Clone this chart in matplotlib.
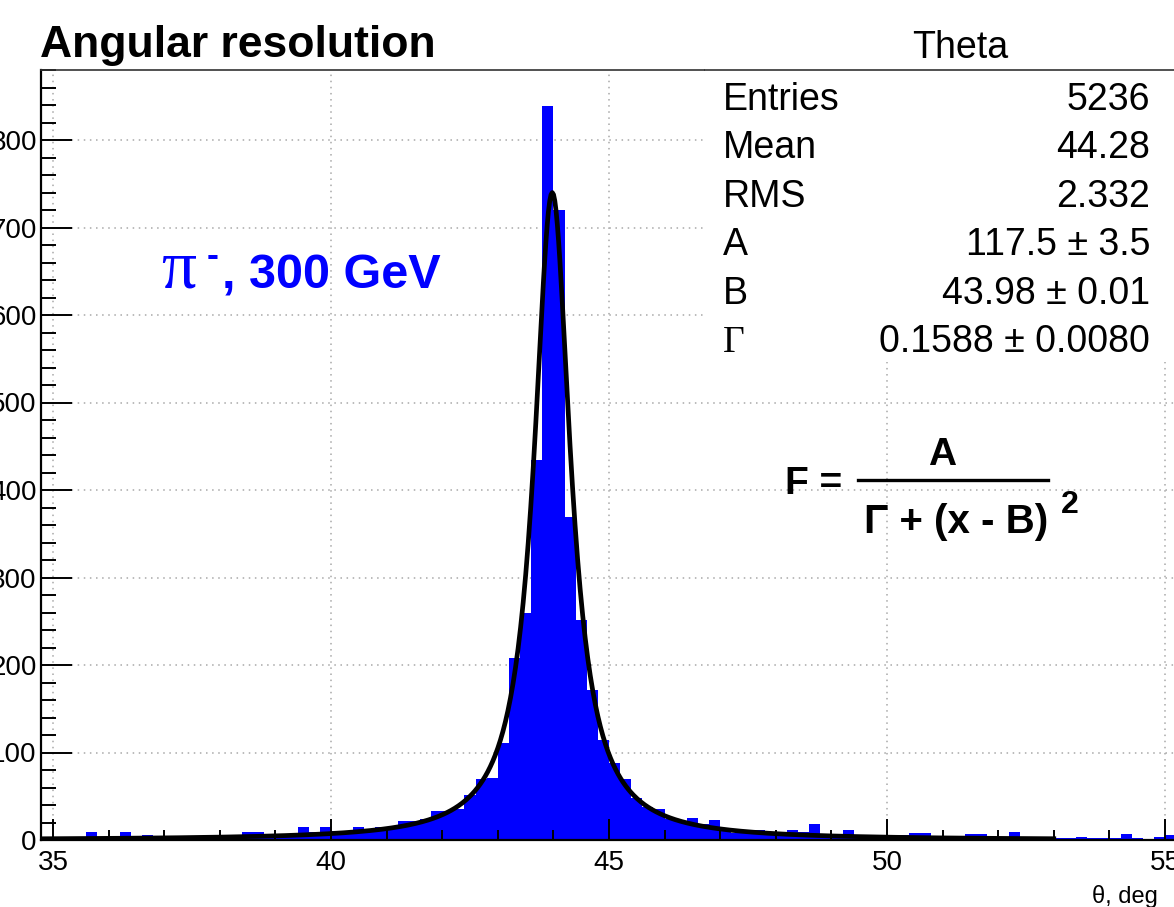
import numpy as np
import matplotlib
matplotlib.use('Agg')
import matplotlib.pyplot as plt
from matplotlib.patches import Rectangle
from matplotlib.lines import Line2D
from matplotlib.ticker import MultipleLocator

plt.rcParams['font.family'] = ['Liberation Sans', 'DejaVu Sans']

# histogram: bins of 0.2 deg starting at 34.8
bin_start = 34.8
bin_width = 0.2
counts = [3, 2, 2, 2, 9, 2, 2, 9, 2, 6,
          2, 5, 3, 3, 3, 3, 3, 3, 9, 9,
          7, 7, 7, 15, 9, 15, 10, 10, 15, 12,
          15, 15, 22, 22, 24, 33, 33, 36, 51, 70,
          71, 111, 208, 259, 434, 839, 720, 369, 251, 171,
          114, 88, 70, 48, 38, 35, 24, 22, 25, 18,
          23, 13, 8, 8, 11, 7, 5, 11, 9, 18,
          4, 4, 11, 5, 5, 2, 2, 6, 8, 8,
          4, 2, 2, 7, 7, 4, 4, 9, 1, 1,
          2, 2, 2, 4, 2, 2, 2, 7, 2, 1,
          4, 6]
edges = bin_start + bin_width * np.arange(len(counts) + 1)

# fit result  F = A / (Gamma + (x - B)^2)
fit_A = 117.5
fit_B = 43.98
fit_G = 0.1588
fit_range = (34.8, 53.0)

stat_names = ['Entries', 'Mean', 'RMS', 'A', 'B', 'Γ']
stat_values = ['5236', '44.28', '2.332', '117.5 ± 3.5', '43.98 ± 0.01', '0.1588 ± 0.0080']

W, H = 1174, 907
def fx(px):
    return px / W
def fy(py):
    return 1 - py / H

fig = plt.figure(figsize=(11.74, 9.07), dpi=100)
ax = fig.add_axes([fx(41), fy(840), (1186 - 41) / W, (840 - 70) / H])

blue = '#0000ff'
ax.stairs(counts, edges, fill=True, color=blue, zorder=1)

xf = np.linspace(fit_range[0], fit_range[1], 800)
ax.plot(xf, fit_A / (fit_G + (xf - fit_B) ** 2), color='black', lw=3.4, zorder=3)

ax.set_xlim(34.784, 55.378)
ax.set_ylim(0, 880)

ax.xaxis.set_major_locator(MultipleLocator(5))
ax.xaxis.set_minor_locator(MultipleLocator(1))
ax.yaxis.set_major_locator(MultipleLocator(100))
ax.yaxis.set_minor_locator(MultipleLocator(20))

# dotted grid under the bars
for v in range(35, 60, 5):
    ax.axvline(v, color='#a8a8a8', lw=1.1, ls=(0, (1, 3)), zorder=0)
for v in range(100, 900, 100):
    ax.axhline(v, color='#a8a8a8', lw=1.1, ls=(0, (1, 3)), zorder=0)

ax.tick_params(axis='x', which='major', direction='in', length=15, width=1.4, pad=7, labelsize=20)
ax.tick_params(axis='x', which='minor', direction='in', length=7.5, width=1.4)
ax.tick_params(axis='y', which='major', direction='in', length=22, width=1.4, pad=3, labelsize=20)
ax.tick_params(axis='y', which='minor', direction='in', length=11, width=1.4)
ax.tick_params(which='both', top=False, right=False)

ax.spines['right'].set_visible(False)
ax.spines['top'].set_linewidth(1.2)
ax.spines['top'].set_color('#333333')
ax.spines['left'].set_linewidth(1.6)
ax.spines['bottom'].set_linewidth(1.6)

# stats box
fig.add_artist(Rectangle((fx(705), fy(362)), 1.01 - fx(705), fy(0) - fy(362) + 0.01,
                         transform=fig.transFigure, facecolor='white', edgecolor='none', zorder=5))
fig.add_artist(Line2D([fx(705), 1.0], [fy(70), fy(70)], color='#333333', lw=1.2, zorder=6))
fig.text(fx(960), fy(58), 'Theta', fontsize=27, ha='center', va='baseline', zorder=10)
for i, (n, v) in enumerate(zip(stat_names, stat_values)):
    base = 110 + 48.4 * i
    fam = ['Liberation Serif'] if n == 'Γ' else ['Liberation Sans']
    fig.text(fx(723), fy(base), n, fontsize=27, family=fam, ha='left', va='baseline', zorder=10)
    fig.text(fx(1150), fy(base), v, fontsize=27, ha='right', va='baseline', zorder=10)

# title
fig.text(fx(40), fy(57), 'Angular resolution', fontsize=32, weight='bold', ha='left', va='baseline', zorder=10)

# particle label
fig.text(fx(161), fy(288), 'π', fontsize=50, family=['Liberation Serif'], color=blue,
         ha='left', va='baseline', zorder=10)
fig.text(fx(207), fy(266), '-', fontsize=26, weight='bold', color=blue, ha='left', va='baseline', zorder=10)
fig.text(fx(222), fy(288), ', 300 GeV', fontsize=35, weight='bold', color=blue,
         ha='left', va='baseline', zorder=10)

# formula
fig.text(fx(785), fy(494), 'F =', fontsize=28, weight='bold', ha='left', va='baseline', zorder=10)
fig.add_artist(Line2D([fx(858), fx(1048)], [fy(480), fy(480)], color='black', lw=2.4, zorder=6))
fig.text(fx(942), fy(465), 'A', fontsize=28, weight='bold', ha='center', va='baseline', zorder=10)
fig.text(fx(956), fy(533), 'Γ + (x - B)', fontsize=29, weight='bold', ha='center', va='baseline', zorder=10)
fig.text(fx(1061), fy(513), '2', fontsize=23, weight='bold', ha='left', va='baseline', zorder=10)

fig.text(fx(1092), fy(903), 'θ, deg', fontsize=17, ha='left', va='baseline', zorder=10)

fig.savefig('out.png', dpi=100, facecolor='white')
